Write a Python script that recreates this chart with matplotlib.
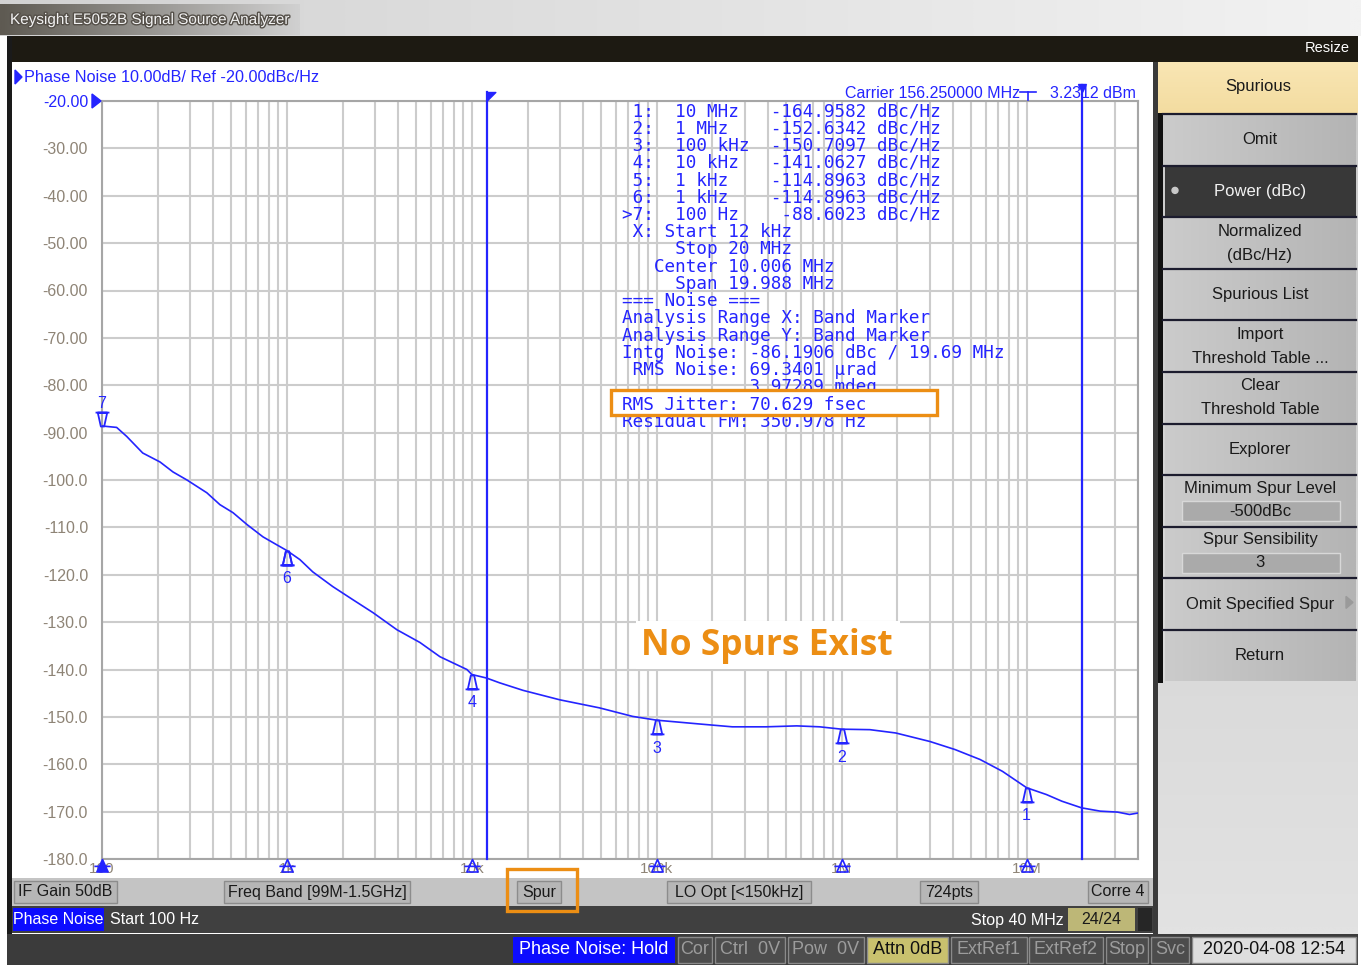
import matplotlib
matplotlib.use('Agg')
import matplotlib.pyplot as plt
import matplotlib.patheffects as pe
from matplotlib.patches import Rectangle, Polygon, Circle
from matplotlib.path import Path
from matplotlib.colors import to_rgb
from matplotlib.ticker import LogLocator, NullFormatter
import numpy as np

W, H = 1361, 965

# ---- trace: offset frequency (Hz) vs phase noise (dBc/Hz)
freq_hz = [100, 120, 136, 166, 206, 242, 288, 369, 434, 511, 608, 742, 883, 1000,
           1175, 1380, 1770, 2280, 2920, 3930, 5240, 6720, 9400, 10000, 12000,
           14100, 18900, 29900, 49000, 74000, 100000, 170000, 256000, 390000,
           571000, 760000, 1.0e6, 1.42e6, 1.96e6, 3.0e6, 4.1e6, 5.6e6, 7.4e6,
           1.0e7, 1.28e7, 1.55e7, 1.98e7, 2.5e7, 3.1e7, 3.6e7, 4.0e7]
noise_dbc = [-88.6, -88.9, -90.8, -94.3, -96.2, -98.3, -100.0, -102.7, -105.2,
             -106.9, -109.4, -112.0, -113.7, -114.9, -116.8, -119.4, -122.5,
             -125.3, -128.0, -131.6, -134.3, -137.3, -140.0, -141.06, -141.8,
             -142.8, -144.4, -146.4, -148.1, -149.9, -150.7, -151.5, -152.1,
             -152.1, -151.9, -152.1, -152.6, -152.7, -153.4, -155.2, -156.9,
             -159.0, -161.5, -164.96, -166.4, -167.8, -169.2, -169.9, -170.1,
             -170.6, -170.3]

marker_freq = [1e7, 1e6, 1e5, 1e4, 1e3, 1e3, 100]
marker_dbc = [-164.9582, -152.6342, -150.7097, -141.0627, -114.8963, -114.8963, -88.6023]
marker_lbl = ['10 MHz', '1 MHz', '100 kHz', '10 kHz', '1 kHz', '1 kHz', '100 Hz']
active_marker = 7

band_start, band_stop = 12e3, 20e6

noise_lines = [
    ' X: Start 12 kHz',
    '     Stop 20 MHz',
    '   Center 10.006 MHz',
    '     Span 19.988 MHz',
    '=== Noise ===',
    'Analysis Range X: Band Marker',
    'Analysis Range Y: Band Marker',
    'Intg Noise: -86.1906 dBc / 19.69 MHz',
    ' RMS Noise: 69.3401 \u00b5rad',
    '            3.97289 mdeg',
    'RMS Jitter: 70.629 fsec',
    'Residual FM: 350.978 Hz',
]

x_ticks = [100, 1e3, 1e4, 1e5, 1e6, 1e7]
x_tick_lbl = ['100', '1k', '10k', '100k', '1M', '10M']
y_ticks = list(range(-20, -181, -10))

softkeys = [('Omit', None), ('Power (dBc)', None), ('Normalized\n(dBc/Hz)', None),
            ('Spurious List', None), ('Import\nThreshold Table ...', None),
            ('Clear\nThreshold Table', None), ('Explorer', None),
            ('Minimum Spur Level', '-500dBc'), ('Spur Sensibility', '3'),
            ('Omit Specified Spur', None), ('Return', None)]

status_keys = [('IF Gain 50dB', 14, 117), ('Freq Band [99M-1.5GHz]', 224, 410),
               ('Spur', 517, 561), ('LO Opt [<150kHz]', 667, 811),
               ('724pts', 920, 978), ('Corre 4', 1088, 1148)]
bottom_keys = [('Cor', 678, 712), ('Ctrl  0V', 715, 785), ('Pow  0V', 788, 864),
               ('Attn 0dB', 867, 948), ('ExtRef1', 951, 1027), ('ExtRef2', 1029, 1103),
               ('Stop', 1106, 1148), ('Svc', 1151, 1189)]

BLUE = '#2424ff'
ORANGE = '#ec8e14'
plt.rcParams['font.family'] = ['Liberation Sans', 'DejaVu Sans']


def grad(a, x0, y0, x1, y1, c0, c1, vertical=False, z=1):
    t = np.linspace(0, 1, 64)[:, None]
    g = np.array(to_rgb(c0))[None, :] * (1 - t) + np.array(to_rgb(c1))[None, :] * t
    img = g[:, None, :] if vertical else g[None, :, :]
    a.imshow(img, extent=(x0, x1, y1, y0), aspect='auto', zorder=z,
             interpolation='bilinear')


def box(a, x0, y0, x1, y1, fc, ec='none', lw=0, z=2):
    a.add_patch(Rectangle((x0, y0), x1 - x0, y1 - y0, facecolor=fc, edgecolor=ec,
                          linewidth=lw, zorder=z))


fig = plt.figure(figsize=(W / 100, H / 100), dpi=100)
bg = fig.add_axes([0, 0, 1, 1], zorder=0)
bg.axis('off')

# --- window chrome ---
grad(bg, 0, 0, W, 36, '#d2d2d2', '#f2f2f2')
grad(bg, 0, 4, 300, 35, '#5e5a52', '#d0d0d0')
bg.text(10, 20, 'Keysight E5052B Signal Source Analyzer', color='#f2f2f2', fontsize=11,
        va='center', zorder=3,
        path_effects=[pe.withStroke(linewidth=2, foreground='#555049')])
box(bg, 7, 36, W - 3, 62, '#1d1a12')
bg.text(1350, 48, 'Resize', color='white', fontsize=10.5, ha='right', va='center', zorder=3)
box(bg, 7, 36, 12, 934, '#1a1a1a')
box(bg, 12, 62, 1153, 878, 'white')
box(bg, 1153, 62, 1158, 934, '#3a3a3a')

# --- softkey panel ---
grad(bg, 1158, 62, W - 3, 934, '#c8c8c8', '#e2e2e2', vertical=True)
grad(bg, 1158, 62, 1358, 113, '#f9e6b4', '#f3dca0', vertical=True, z=2)
bg.text(1258, 87, 'Spurious', fontsize=12, ha='center', va='center', color='#1a1a1a', zorder=4)
box(bg, 1158, 113, 1163, 683, '#111111', z=3)
pitch = 51.6
for i, (lbl, val) in enumerate(softkeys):
    y0 = 113 + i * pitch
    y1 = y0 + pitch
    dark = lbl.startswith('Power')
    if dark:
        box(bg, 1165, y0 + 2, 1356, y1, '#383838', z=2)
        bg.add_patch(Circle((1175, (y0 + y1) / 2), 3, color='#c8c8c8', zorder=4))
    else:
        grad(bg, 1165, y0 + 2, 1356, y1, '#cbcbcb', '#b4b4b4', z=2)
    bg.plot([1163, 1356], [y0 + 1, y0 + 1], color='#1c1c2e', lw=1.6, zorder=3)
    tc = '#f2f2f2' if dark else '#1a1a1a'
    if val is not None:
        bg.text(1260, y0 + 14, lbl, fontsize=12, ha='center', va='center', color=tc, zorder=4)
        box(bg, 1182, y0 + 27, 1340, y0 + 47, '#aaaaaa', '#d8d8d8', 1, z=3)
        bg.text(1260, y0 + 37, val, fontsize=12, ha='center', va='center', color=tc, zorder=4)
    elif '\n' in lbl:
        l1, l2 = lbl.split('\n')
        bg.text(1260, y0 + 15, l1, fontsize=12, ha='center', va='center', color=tc, zorder=4)
        bg.text(1260, y0 + 39, l2, fontsize=12, ha='center', va='center', color=tc, zorder=4)
    else:
        bg.text(1260, (y0 + y1) / 2 + 1, lbl, fontsize=12, ha='center', va='center',
                color=tc, zorder=4)
    if lbl.startswith('Omit Specified'):
        bg.add_patch(Polygon([(1346, y0 + 19), (1353, y0 + 25), (1346, y0 + 31)],
                             color='#9a9a9a', zorder=4))

# --- status bar inside the trace window ---
box(bg, 12, 878, 1153, 906, '#c4c4c4')
for lbl, x0, x1 in status_keys:
    box(bg, x0, 881, x1, 903, '#b6b6b6', '#8c8c8c', 1, z=3)
    bg.text((x0 + x1) / 2, 892, lbl, fontsize=11.5, ha='center', va='center',
            color='#1a1a1a', zorder=4)
box(bg, 507, 869, 577, 911, 'none', ORANGE, 2.4, z=5)

box(bg, 12, 906, 1153, 933, '#404040')
box(bg, 13, 908, 104, 931, '#0c0cff', z=3)
bg.text(58, 920, 'Phase Noise', fontsize=11.5, ha='center', va='center', color='white', zorder=4)
bg.text(110, 920, 'Start 100 Hz', fontsize=11.5, va='center', color='white', zorder=4)
bg.text(1064, 920, 'Stop 40 MHz', fontsize=11.5, ha='right', va='center', color='white', zorder=4)
box(bg, 1068, 908, 1135, 931, '#bdb777', z=3)
bg.text(1101, 920, '24/24', fontsize=11.5, ha='center', va='center', color='#1a1a1a', zorder=4)
box(bg, 1138, 908, 1152, 931, '#262626', z=3)

box(bg, 7, 934, W - 3, H, '#3b3b3b')
box(bg, 513, 937, 675, 963, '#0c0cff', z=3)
bg.text(594, 950, 'Phase Noise: Hold', fontsize=13, ha='center', va='center', color='white', zorder=4)
for lbl, x0, x1 in bottom_keys:
    hot = lbl.startswith('Attn')
    box(bg, x0, 937, x1, 963, '#c9c16e' if hot else '#4c4c4c', '#8a8a8a', 1, z=3)
    bg.text((x0 + x1) / 2, 950, lbl, fontsize=13, ha='center', va='center',
            color='#111111' if hot else '#9c9c9c', zorder=4)
box(bg, 1192, 937, 1356, 963, '#dedede', '#8a8a8a', 1, z=3)
bg.text(1274, 950, '2020-04-08 12:54', fontsize=13, ha='center', va='center',
        color='#111111', zorder=4)

bg.set_xlim(0, W)
bg.set_ylim(H, 0)

# --- trace axes ---
ax = fig.add_axes([102 / W, (H - 859) / H, 1036 / W, 758 / H], zorder=1)
ax.set_xscale('log')
ax.set_xlim(100, 4e7)
ax.set_ylim(-180, -20)
ax.xaxis.set_minor_locator(LogLocator(base=10, subs=np.arange(2, 10)))
ax.xaxis.set_minor_formatter(NullFormatter())
ax.set_xticks(x_ticks, x_tick_lbl)
ax.set_yticks(y_ticks, [f'{v:.2f}' if v > -100 else f'{v:.1f}' for v in y_ticks])
ax.grid(which='both', axis='x', color='#cccccc', lw=1.5)
ax.grid(which='major', axis='y', color='#cccccc', lw=1.5)
ax.tick_params(which='both', length=0)
ax.tick_params(axis='y', pad=10, labelsize=11.5, labelcolor='#8e8476')
ax.tick_params(axis='x', pad=2, labelsize=11, labelcolor='#8e8476')
ax.get_yticklabels()[0].set_color(BLUE)
for s in ax.spines.values():
    s.set_color('#a6a6a6')
    s.set_linewidth(1.5)

ax.plot(freq_hz, noise_dbc, color=BLUE, lw=1.2, zorder=3)
ax.plot([band_start, band_start], [-180, -18.1], color=BLUE, lw=1.6, clip_on=False, zorder=4)
ax.plot([band_stop, band_stop], [-180, -16.6], color=BLUE, lw=1.6, clip_on=False, zorder=4)
flag = Path([(0, 0), (1, 0), (0, -1), (0, 0)],
            [Path.MOVETO, Path.LINETO, Path.LINETO, Path.CLOSEPOLY])
ax.plot([band_start], [-18.1], marker=flag, ms=12, color=BLUE, clip_on=False, zorder=4)
ax.plot([band_stop], [-17.2], marker='v', ms=6, color=BLUE, clip_on=False, zorder=5)

up = Path([(-0.12, 0), (0.12, 0), (0.34, -1), (-0.34, -1), (-0.12, 0), (-0.5, -1), (0.5, -1)],
          [Path.MOVETO, Path.LINETO, Path.LINETO, Path.LINETO, Path.CLOSEPOLY,
           Path.MOVETO, Path.LINETO])
down = Path([(x, -y) for x, y in up.vertices], up.codes)
for i, (f, v) in enumerate(zip(marker_freq, marker_dbc), start=1):
    later = [g for g in marker_freq[i:] if g == f]
    if i == active_marker:
        ax.plot([f], [v], marker=down, ms=20, mfc='none', mec=BLUE, mew=1.3,
                clip_on=False, zorder=5)
        ax.annotate(str(i), (f, v), xytext=(0, 16), textcoords='offset points',
                    ha='center', va='center', color=BLUE, fontsize=11.5, annotation_clip=False)
    else:
        ax.plot([f], [v], marker=up, ms=20, mfc='none', mec=BLUE, mew=1.3,
                clip_on=False, zorder=5)
        if not later:
            ax.annotate(str(i), (f, v), xytext=(0, -20), textcoords='offset points',
                        ha='center', va='center', color=BLUE, fontsize=11.5)

# marker indicators on the frequency axis
tick_mk = Path([(0, 0), (0.45, -1), (-0.45, -1), (0, 0), (-0.65, -0.55), (0.65, -0.55)],
               [Path.MOVETO, Path.LINETO, Path.LINETO, Path.CLOSEPOLY, Path.MOVETO, Path.LINETO])
for f in sorted(set(marker_freq)):
    active = f == marker_freq[active_marker - 1]
    ax.plot([f], [-180], marker=tick_mk, ms=18, mfc=BLUE if active else 'none',
            mec=BLUE, mew=1.2, clip_on=False, zorder=6)

# --- overlay: texts on the trace window ---
ov = fig.add_axes([0, 0, 1, 1], zorder=2)
ov.axis('off')
ov.set_xlim(0, W)
ov.set_ylim(H, 0)
ov.add_patch(Polygon([(15, 70), (22, 77), (15, 84)], color=BLUE))
ov.text(24, 77, 'Phase Noise 10.00dB/ Ref -20.00dBc/Hz', color=BLUE, fontsize=11.7, va='center')
ov.add_patch(Polygon([(92, 94), (101, 101), (92, 108)], color=BLUE))
ov.text(845, 93, 'Carrier 156.250000 MHz', color=BLUE, fontsize=11.5, va='center')
ov.text(1050, 93, '3.2312 dBm', color=BLUE, fontsize=11.5, va='center')
ov.plot([1020, 1036], [92, 92], color=BLUE, lw=1.2)
ov.plot([1028, 1028], [92, 100], color=BLUE, lw=1.2)

table = []
for i, (lbl, v) in enumerate(zip(marker_lbl, marker_dbc), start=1):
    pre = '>' if i == active_marker else ' '
    table.append(f'{pre}{i}:  {lbl:<9}{v:>9.4f} dBc/Hz')
table += noise_lines
step = 17.28
for k, line in enumerate(table):
    hl = line.startswith('RMS Jitter')
    ov.text(622, 111 + k * step, line, family='DejaVu Sans Mono', fontsize=12.7,
            color=BLUE, va='center', zorder=6 if hl else 3)
    if hl:
        ov.add_patch(Rectangle((611, 390), 326, 25, facecolor='white', edgecolor=ORANGE,
                               linewidth=2.4, zorder=5))

ov.add_patch(Rectangle((636, 621), 264, 48, facecolor='white', edgecolor='none', zorder=3))
ov.text(767, 646, 'No Spurs Exist', family='Open Sans', weight='bold', fontsize=25.5,
        color=ORANGE, ha='center', va='center', zorder=4)

fig.savefig('out.png', dpi=100)
